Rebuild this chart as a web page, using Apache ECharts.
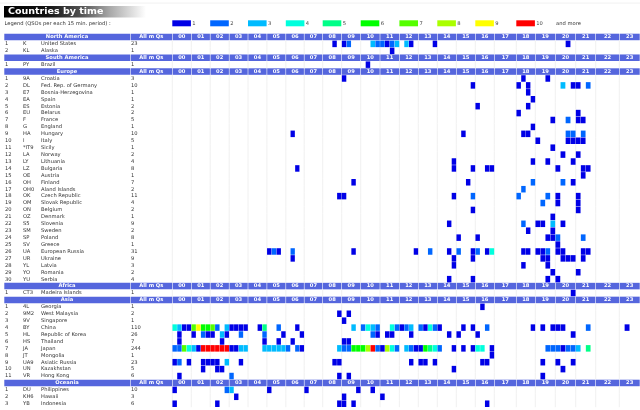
<!DOCTYPE html>
<html lang="en">
<head>
<meta charset="utf-8">
<title>Countries by time</title>
<script src="https://cdn.jsdelivr.net/npm/echarts@6/dist/echarts.min.js"></script>
<style>
  html, body { margin: 0; background: #fff; }
  #main { width: 640px; height: 410px; }
</style>
</head>
<body>
<div id="main"></div>
<script>
// tick labels and legend
var hours = ['00','01','02','03','04','05','06','07','08','09','10','11','12','13','14','15','16','17','18','19','20','21','22','23'];
var legendLabels = ['1','2','3','4','5','6','7','8','9','10'];

// [prefix, country, all QSOs]
var northAmerica = [['K','United States',23],['KL','Alaska',1]];
var southAmerica = [['PY','Brazil',1]];
var europe = [['9A','Croatia',3],['DL','Fed. Rep. of Germany',10],['E7','Bosnia-Herzegovina',1],['EA','Spain',1],['ES','Estonia',2],['EU','Belarus',2],['F','France',5],['G','England',1],['HA','Hungary',10],['I','Italy',5],['*IT9','Sicily',1],['LA','Norway',2],['LY','Lithuania',4],['LZ','Bulgaria',8],['OE','Austria',1],['OH','Finland',7],['OH0','Aland Islands',2],['OK','Czech Republic',11],['OM','Slovak Republic',4],['ON','Belgium',2],['OZ','Denmark',1],['S5','Slovenia',9],['SM','Sweden',2],['SP','Poland',8],['SV','Greece',1],['UA','European Russia',31],['UR','Ukraine',9],['YL','Latvia',3],['YO','Romania',2],['YU','Serbia',4]];
var africa = [['CT3','Madeira Islands',1]];
var asia = [['4L','Georgia',1],['9M2','West Malaysia',2],['9V','Singapore',1],['BY','China',110],['HL','Republic of Korea',26],['HS','Thailand',7],['JA','Japan',244],['JT','Mongolia',1],['UA9','Asiatic Russia',23],['UN','Kazakhstan',5],['VR','Hong Kong',6]];
var oceania = [['DU','Philippines',10],['KH6','Hawaii',3],['YB','Indonesia',6]];

// per country: [hour, quarter, QSOs]
var qsoNorthAmerica = [
  [[8,2,1],[9,0,1],[9,1,2],[10,2,3],[10,3,2],[11,0,2],[11,1,1],[11,2,2],[11,3,3],[12,1,3],[12,2,1],[13,3,1],[20,2,1]],
  [[11,2,1]]
];
var qsoSouthAmerica = [
  [[10,1,1]]
];
var qsoEurope = [
  [[9,0,1],[18,1,1],[19,2,1]],
  [[15,3,1],[18,0,1],[18,2,1],[20,1,3],[20,3,1],[21,0,1],[21,2,2]],
  [[18,2,1]],
  [[18,3,1]],
  [[16,0,1],[18,2,1]],
  [[18,0,1],[21,0,1]],
  [[19,3,1],[20,2,2],[21,0,1],[21,1,1]],
  [[18,3,1]],
  [[6,1,1],[15,1,1],[18,1,1],[18,2,1],[20,2,2],[20,3,2],[21,1,2]],
  [[19,0,1],[20,2,1],[20,3,1],[21,0,1],[21,1,1]],
  [[19,3,1]],
  [[20,1,1],[21,0,1]],
  [[14,3,1],[18,3,1],[19,2,1],[20,3,1]],
  [[6,2,1],[14,3,1],[15,3,1],[16,2,1],[16,3,1],[20,0,1],[21,1,1],[21,2,1]],
  [[21,1,1]],
  [[9,2,1],[15,2,1],[18,3,2],[20,1,2],[20,3,1]],
  [[18,1,2]],
  [[8,3,1],[9,0,1],[14,3,1],[15,3,2],[18,0,2],[19,2,2],[20,0,1],[21,0,1]],
  [[19,1,2],[20,0,1],[21,0,1]],
  [[15,3,1],[21,0,1]],
  [[19,3,1]],
  [[14,2,1],[18,1,2],[19,0,1],[19,1,1],[19,3,3],[20,1,1]],
  [[18,2,1],[19,3,1]],
  [[15,0,1],[16,0,1],[19,2,1],[19,3,1],[20,0,2],[21,1,2]],
  [[20,0,1]],
  [[5,0,1],[5,1,2],[5,2,1],[6,1,2],[9,2,1],[12,3,1],[13,2,2],[14,2,1],[15,0,2],[15,3,1],[16,0,2],[16,2,1],[16,3,4],[18,1,1],[18,2,1],[19,0,1],[19,1,1],[19,2,2],[20,0,1],[20,1,1],[21,1,1],[21,2,1]],
  [[6,1,1],[14,3,1],[15,3,1],[19,1,1],[19,2,1],[20,1,1],[20,2,1],[20,3,1],[21,1,1]],
  [[14,3,1],[18,1,1],[19,2,1]],
  [[19,3,1],[21,0,1]],
  [[14,2,1],[15,3,1],[19,2,1],[20,0,1]]
];
var qsoAfrica = [
  [[20,3,1]]
];
var qsoAsia = [
  [[16,1,1]],
  [[8,3,1],[9,1,1]],
  [[9,0,1]],
  [[0,0,4],[0,1,3],[0,2,1],[0,3,1],[1,0,7],[1,1,9],[1,2,6],[1,3,6],[2,0,7],[2,1,2],[2,3,3],[3,0,1],[3,1,1],[3,2,1],[3,3,1],[4,2,1],[4,3,5],[5,2,2],[6,2,1],[9,2,3],[10,0,2],[10,1,4],[10,2,3],[10,3,2],[11,2,4],[11,3,2],[12,0,1],[12,1,2],[12,2,3],[13,0,2],[13,1,1],[13,2,4],[13,3,2],[14,0,1],[15,1,1],[15,3,1],[16,2,2],[18,3,1],[19,1,1],[19,3,1],[20,0,1],[20,1,1],[21,2,2],[23,1,1]],
  [[0,1,1],[1,0,1],[1,2,2],[1,3,1],[2,0,1],[2,2,3],[2,3,1],[3,2,2],[4,3,2],[5,3,1],[6,3,1],[10,2,2],[10,3,1],[11,1,1],[11,2,1],[12,2,1],[14,2,1],[15,0,1],[16,0,1],[20,3,1]],
  [[0,1,1],[2,2,1],[4,3,1],[5,2,1],[6,1,1],[9,0,1],[9,1,1]],
  [[0,0,2],[0,1,2],[0,2,7],[0,3,4],[1,0,3],[1,1,1],[1,2,12],[1,3,14],[2,0,15],[2,1,16],[2,2,13],[2,3,12],[3,0,1],[3,1,1],[3,2,3],[3,3,3],[4,3,3],[5,0,3],[5,1,3],[5,2,3],[5,3,3],[6,0,2],[6,2,2],[6,3,1],[8,3,3],[9,0,2],[9,1,2],[9,2,6],[9,3,6],[10,0,6],[10,1,8],[10,2,10],[10,3,2],[11,0,1],[11,1,8],[11,2,4],[11,3,2],[12,1,3],[12,2,2],[12,3,1],[13,0,1],[13,1,6],[13,2,5],[13,3,4],[14,0,2],[14,3,1],[15,1,1],[15,3,1],[16,0,4],[16,1,4],[16,3,1],[19,2,2],[19,3,2],[20,0,2],[20,1,1],[20,2,2],[20,3,2],[21,0,3],[21,2,5]],
  [[16,3,1]],
  [[0,0,1],[0,1,2],[0,3,1],[1,2,1],[1,3,1],[2,0,1],[2,1,1],[2,3,3],[3,2,1],[8,2,1],[8,3,1],[12,2,1],[13,0,1],[13,1,1],[13,3,1],[16,1,1],[16,2,1],[19,1,1],[20,0,1],[20,3,1]],
  [[1,2,1],[2,1,1],[2,2,1],[14,3,1],[20,1,1]],
  [[0,1,1],[3,0,2],[8,3,1],[9,1,1],[19,1,1]]
];
var qsoOceania = [
  [[0,0,1],[2,3,2],[3,0,3],[5,0,1],[7,0,1],[9,3,1],[10,2,1]],
  [[3,1,1],[9,0,1],[11,0,1]],
  [[0,0,1],[2,1,1],[8,3,1],[9,0,1],[9,2,1],[16,2,1]]
];

var continents = [
  ['North America', northAmerica, qsoNorthAmerica],
  ['South America', southAmerica, qsoSouthAmerica],
  ['Europe', europe, qsoEurope],
  ['Africa', africa, qsoAfrica],
  ['Asia', asia, qsoAsia],
  ['Oceania', oceania, qsoOceania]
];

// table layout, the columns are not all the same width in the original
var hourEdges = [172.3,191.3,210.2,229.2,248,266.9,285.8,304.2,322.7,341.7,360.7,380,399.4,418.3,437.3,456.3,475.3,494.3,516.3,535.3,555.3,575.7,595.7,619.3,640];
var palette = ['#0000e6','#0066ff','#00bbff','#00ffdd','#00ff88','#00ff00','#55ff00','#aaff00','#ffff00','#ff0000'];
var font = '"DejaVu Sans", Verdana, sans-serif';
var headColor = '#5566dd';
var rowHeight = 6.92;
var textSize = 5.2;

// flatten the continents to table rows and cells
var rows = [];
var cells = [];
continents.forEach(function (c) {
  rows.push({ head: true, name: c[0] });
  c[1].forEach(function (d, i) {
    var r = rows.length;
    rows.push({ rank: i + 1, prefix: d[0], name: d[1], total: d[2] });
    c[2][i].forEach(function (q) {
      var w = (hourEdges[q[0] + 1] - hourEdges[q[0]]) / 4;
      cells.push([hourEdges[q[0]] + q[1] * w, r, q[2], w]);
    });
  });
});

function txt(text, x, y, fill, size, align, weight) {
  return {
    type: 'text',
    style: {
      text: String(text), x: x, y: y, fill: fill, align: align || 'left', verticalAlign: 'middle',
      font: (weight || 'normal') + ' ' + size + 'px ' + font
    }
  };
}

function renderRow(params, api) {
  var row = rows[params.dataIndex];
  var p = api.coord([0, params.dataIndex]);
  var h = api.size([0, 1])[1];
  var y = p[1];
  var kids = [];
  if (row.head) {
    var bar = function (x0, x1) {
      kids.push({ type: 'rect', shape: { x: x0 + 0.3, y: y - h / 2 + 0.2, width: x1 - x0 - 0.6, height: h - 0.4 }, style: { fill: headColor } });
    };
    bar(4, 130.3);
    bar(130.3, 172.3);
    kids.push(txt(row.name, 67, y, '#fff', textSize, 'center', 'bold'));
    kids.push(txt('All m Qs', 151.3, y, '#fff', textSize, 'center', 'bold'));
    hours.forEach(function (t, i) {
      bar(hourEdges[i], hourEdges[i + 1]);
      kids.push(txt(t, (hourEdges[i] + hourEdges[i + 1]) / 2, y, '#fff', textSize, 'center', 'bold'));
    });
  } else {
    hourEdges.slice(0, 24).forEach(function (x) {
      kids.push({ type: 'line', shape: { x1: x, y1: y - h / 2, x2: x, y2: y + h / 2 }, style: { stroke: '#ececec', lineWidth: 0.8 } });
    });
    kids.push(txt(row.rank, 5, y, '#333', textSize));
    kids.push(txt(row.prefix, 23, y, '#333', textSize));
    kids.push(txt(row.name, 41, y, '#333', textSize));
    kids.push(txt(row.total, 131, y, '#333', textSize));
  }
  return { type: 'group', children: kids };
}

function renderCell(params, api) {
  var p = api.coord([api.value(0), api.value(1)]);
  var h = api.size([0, 1])[1];
  var w = api.value(3);
  var color = palette[Math.min(api.value(2), palette.length) - 1];
  return {
    type: 'rect',
    shape: { x: p[0] + 0.15, y: p[1] - h / 2 + 0.2, width: w - 0.3, height: h - 0.4 },
    style: { fill: color }
  };
}

// legend and title, placed on the same columns as the table
var legendItems = [];
legendLabels.forEach(function (t, i) {
  var x = hourEdges[i * 2];
  legendItems.push({ type: 'rect', shape: { x: x, y: 20.3, width: 18.6, height: 6 }, style: { fill: palette[i] } });
  legendItems.push({ type: 'text', style: { text: t, x: x + 20, y: 23.5, fill: '#444', verticalAlign: 'middle', font: textSize + 'px ' + font } });
});
legendItems.push({ type: 'text', style: { text: 'and more', x: hourEdges[20] + 0.8, y: 23.5, fill: '#333', verticalAlign: 'middle', font: textSize + 'px ' + font } });

var chart = echarts.init(document.getElementById('main'));
chart.setOption({
  animation: false,
  backgroundColor: '#fff',
  grid: { left: 0, right: 0, top: 33.5, height: rowHeight * rows.length },
  xAxis: { type: 'value', min: 0, max: 640, show: false },
  yAxis: { type: 'category', inverse: true, show: false, data: rows.map(function (r, i) { return i; }) },
  graphic: [
    { type: 'rect', shape: { x: 0, y: 2.6, width: 640, height: 1.2 }, style: { fill: '#f4f4f4' } },
    { type: 'rect', shape: { x: 4, y: 6, width: 142, height: 11.5 }, style: { fill: new echarts.graphic.LinearGradient(0, 0, 1, 0, [
      { offset: 0, color: '#000' }, { offset: 0.3, color: '#111' }, { offset: 0.55, color: '#555' }, { offset: 0.75, color: '#aaa' }, { offset: 1, color: '#fff' }
    ]) } },
    { type: 'text', style: { text: 'Countries by time', x: 8, y: 11.8, fill: '#fff', verticalAlign: 'middle', font: 'bold 9.5px ' + font } },
    { type: 'text', style: { text: 'Legend (QSOs per each 15 min. period) :', x: 4.5, y: 23.5, fill: '#333', verticalAlign: 'middle', font: textSize + 'px ' + font } }
  ].concat(legendItems),
  series: [
    { type: 'custom', silent: true, renderItem: renderRow, encode: { x: 0, y: 1 }, data: rows.map(function (r, i) { return [0, i]; }) },
    { type: 'custom', silent: true, renderItem: renderCell, encode: { x: 0, y: 1 }, data: cells }
  ]
});
</script>
</body>
</html>
